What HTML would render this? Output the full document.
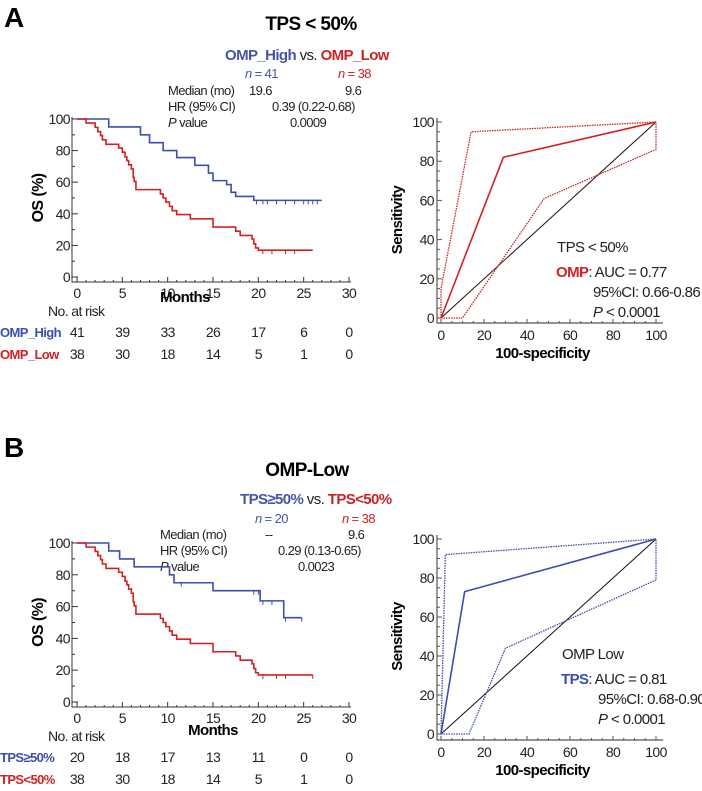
<!DOCTYPE html>
<html><head><meta charset="utf-8"><style>
html,body{margin:0;padding:0;background:#fff;}
svg{display:block;font-family:"Liberation Sans",Arial,sans-serif;}
svg text{letter-spacing:-0.6px;}
</style></head><body>
<svg id="fig" width="702" height="791" viewBox="0 0 702 791">
<g id="static" font-size="13" fill="#222">
  <text x="4" y="27" font-size="28" font-weight="bold" fill="#000">A</text>
  <text x="311" y="30" font-size="19" font-weight="bold" fill="#000" text-anchor="middle">TPS &lt; 50%</text>
  <text x="225" y="60" font-size="15"><tspan font-weight="bold" fill="#4455aa">OMP_High</tspan><tspan fill="#222"> vs. </tspan><tspan font-weight="bold" fill="#cc2222">OMP_Low</tspan></text>
  <text x="245" y="78" fill="#4455aa"><tspan font-style="italic">n</tspan> = 41</text>
  <text x="338" y="78" fill="#cc2222"><tspan font-style="italic">n</tspan> = 38</text>
  <text x="168" y="95">Median (mo)</text>
  <text x="249" y="95">19.6</text>
  <text x="345" y="95">9.6</text>
  <text x="168" y="111">HR (95% CI)</text>
  <text x="272" y="111">0.39 (0.22-0.68)</text>
  <text x="168" y="127"><tspan font-style="italic">P</tspan> value</text>
  <text x="290" y="127">0.0009</text>

  <text x="4" y="457" font-size="28" font-weight="bold" fill="#000">B</text>
  <text x="307" y="476" font-size="19" font-weight="bold" fill="#000" text-anchor="middle">OMP-Low</text>
  <text x="240" y="504" font-size="15"><tspan font-weight="bold" fill="#4455aa">TPS≥50%</tspan><tspan fill="#222"> vs. </tspan><tspan font-weight="bold" fill="#cc2222">TPS&lt;50%</tspan></text>
  <text x="255" y="523" fill="#4455aa"><tspan font-style="italic">n</tspan> = 20</text>
  <text x="342" y="523" fill="#cc2222"><tspan font-style="italic">n</tspan> = 38</text>
  <text x="160" y="539">Median (mo)</text>
  <text x="265" y="539">--</text>
  <text x="348" y="539">9.6</text>
  <text x="160" y="555">HR (95% CI)</text>
  <text x="278" y="555">0.29 (0.13-0.65)</text>
  <text x="160" y="571"><tspan font-style="italic">P</tspan> value</text>
  <text x="298" y="571">0.0023</text>
</g>
</svg>
<script>
// ---- KM data ----
const kmA_highT=[0,3.5,7,8,9.5,11,13,14.5,15,16.5,17,17.5,19.5,27];
const kmA_highS=[100,95,90,85,80,75.6,70.7,65.8,61,58.5,53.6,51,48.5,48.5];
const kmA_highCens=[19.8,20.5,21,22,23,24,25,25.5,26,26.5];
const kmA_lowT=[0,1,2,2.3,2.6,2.8,3.2,4.6,5,5.3,5.5,5.7,6,6.2,6.3,6.5,9.2,9.5,9.8,10.2,10.5,11,12.5,15,17.5,18,19.3,19.5,19.7,20,26];
const kmA_lowS=[100,97.4,94.7,92,89.5,86.8,84,81.6,79,76,73.7,71,68.4,63,60.5,55.3,52.6,50,47.4,44.7,42,39.5,36.8,31.6,29,26.3,24,21,18.4,17,17];
const kmA_lowCens=[20.5,21.5,23,24];
const kmB_highT=[0,3.5,4.7,6.3,10.2,10.7,15,20.2,22.8,24.8];
const kmB_highS=[100,95,90,85,80,75,70,63.6,53,53];
const kmB_highCens=[11.5,19.5,20,20.5,21.5,23,24.8];
const kmB_lowT=[0,1,2,2.3,2.6,2.8,3.2,4.6,5,5.3,5.5,5.7,6,6.2,6.3,6.5,9.2,9.5,9.8,10.2,10.5,11,12.5,15,17.5,18,19.3,19.5,19.7,20,26];
const kmB_lowS=[100,97.4,94.7,92,89.5,86.8,84,81.6,79,76,73.7,71,68.4,63,60.5,55.3,52.6,50,47.4,44.7,42,39.5,36.8,31.6,29,26.3,24,21,18.4,17,17];
const kmB_lowCens=[20.5,22,23,26];
const riskCols=[0,5,10,15,20,25,30];
const riskA_high=[41,39,33,26,17,6,0];
const riskA_low=[38,30,18,14,5,1,0];
const riskB_high=[20,18,17,13,11,0,0];
const riskB_low=[38,30,18,14,5,1,0];
const kmTicksX=[0,5,10,15,20,25,30];
const kmTicksY=[0,20,40,60,80,100];
// ---- ROC data ----
const rocA_mainX=[0,29,100], rocA_mainY=[0,82,100];
const rocA_upX=[0,0,14,100], rocA_upY=[0,15,95,100];
const rocA_loX=[0,10,48,100,100], rocA_loY=[0,0,61,86,100];
const rocB_mainX=[0,11,100], rocB_mainY=[0,73,100];
const rocB_upX=[0,2,100], rocB_upY=[0,92,100];
const rocB_loX=[0,13,30,100,100], rocB_loY=[0,0,44,79,100];
const rocTicks=[0,20,40,60,80,100];

const NS='http://www.w3.org/2000/svg';
const svg=document.getElementById('fig');
function mk(tag,attrs,parent){const e=document.createElementNS(NS,tag);for(const k in attrs)e.setAttribute(k,attrs[k]);(parent||svg).appendChild(e);return e;}
function txt(x,y,s,attrs){const e=mk('text',Object.assign({x:x,y:y,'font-size':13,fill:'#222'},attrs||{}));e.textContent=s;return e;}

function drawKM(o){
  const sx=t=>o.x0+(o.x1-o.x0)*t/30, sy=s=>o.y0-(o.y0-o.y1)*s/100;
  const g=mk('g',{});
  
  
  const ya=mk('path',{d:`M${o.x0-5} ${sy(100)-2}V${o.axY}H${o.x1+2}`,stroke:'#333',fill:'none','stroke-width':1},g);
  
  
  for(let v=0;v<=100;v+=10){mk('line',{x1:o.x0-5,x2:o.x0-(v%20?2:-1),y1:sy(v),y2:sy(v),stroke:'#333'},g);}
  kmTicksY.forEach(v=>{const t=txt(o.x0-7,sy(v)+5,String(v),{'text-anchor':'end','font-size':14});});
  for(let v=0;v<=30;v+=1){mk('line',{x1:sx(v),x2:sx(v),y1:o.axY,y2:o.axY-(v%5?2:5),stroke:'#333'},g);}
  kmTicksX.forEach(v=>{const t=txt(sx(v),o.axY+16,String(v),{'text-anchor':'middle','font-size':14});});
  const xl=txt(o.monX,o.monY,'Months',{'text-anchor':'middle','font-size':15,'font-weight':'bold',fill:'#000'});
  
  const yl=txt(0,0,'OS (%)',{'text-anchor':'middle','font-size':16,'font-weight':'bold',fill:'#000',transform:`translate(${o.x0-34},${(sy(50))}) rotate(-90)`});
  
  function curve(T,S,C,col,nm){
    let d=`M${sx(T[0])} ${sy(S[0])}`;
    for(let i=1;i<T.length;i++){d+=`H${sx(T[i])}V${sy(S[i])}`;}
    const p=mk('path',{d:d,stroke:col,fill:'none','stroke-width':1.6},g);
    
    
    C.forEach(c=>{let s=S[0];for(let i=0;i<T.length;i++){if(T[i]<=c)s=S[i];}
      const l=mk('line',{x1:sx(c),x2:sx(c),y1:sy(s),y2:sy(s)+4,stroke:col,'stroke-width':1},g);
      
      });
  }
  curve(o.hT,o.hS,o.hC,'#3a4fb0',o.name+'-high');
  curve(o.lT,o.lS,o.lC,'#d42020',o.name+'-low');
  const nr=txt(48,o.riskY,'No. at risk',{'font-size':14});
  
  [[o.hLab,o.rH,'#3a4fb0'],[o.lLab,o.rL,'#d42020']].forEach((r,k)=>{
    const y=o.riskY+21+k*22;
    const lb=txt(0,y,r[0],{'font-size':13,'font-weight':'bold',fill:r[2],'letter-spacing':'-0.9px'});
    
    riskCols.forEach((c,i)=>{const t=txt(sx(c),y,String(r[1][i]),{'text-anchor':'middle','font-size':14});
      });
  });
}
drawKM({name:'a',x0:77,x1:349,y0:277,y1:119,axY:282,monX:185,monY:302,riskY:316,hLab:'OMP_High',lLab:'OMP_Low',
  hT:kmA_highT,hS:kmA_highS,hC:kmA_highCens,lT:kmA_lowT,lS:kmA_lowS,lC:kmA_lowCens,rH:riskA_high,rL:riskA_low});
drawKM({name:'b',x0:77,x1:349,y0:702,y1:543,axY:707,monX:213,monY:735,riskY:741,hLab:'TPS≥50%',lLab:'TPS<50%',
  hT:kmB_highT,hS:kmB_highS,hC:kmB_highCens,lT:kmB_lowT,lS:kmB_lowS,lC:kmB_lowCens,rH:riskB_high,rL:riskB_low});

function drawROC(o){
  const sx=v=>o.x0+(o.x1-o.x0)*v/100, sy=v=>o.y0-(o.y0-o.y1)*v/100;
  const g=mk('g',{});
  
  
  const ax=mk('path',{d:`M${o.x0-4} ${sy(100)-4}V${o.axY}H${sx(100)+7}`,stroke:'#555',fill:'none','stroke-width':1.2},g);
  
  for(let v=0;v<=100;v+=5){mk('line',{x1:o.x0-4,x2:o.x0-(v%20?1:-1),y1:sy(v),y2:sy(v),stroke:'#555'},g);
    mk('line',{x1:sx(v),x2:sx(v),y1:o.axY,y2:o.axY-(v%20?2:4),stroke:'#555'},g);}
  rocTicks.forEach(v=>{
    const a=txt(o.x0-7,sy(v)+5,String(v),{'text-anchor':'end','font-size':14});
    
    const b=txt(sx(v),o.axY+17,String(v),{'text-anchor':'middle','font-size':14});
    });
  const xl=txt(sx(50)-6,o.axY+35,'100-specificity',{'text-anchor':'middle','font-size':15,'font-weight':'bold',fill:'#000'});
  
  const yl=txt(0,0,'Sensitivity',{'text-anchor':'middle','font-size':15,'font-weight':'bold',fill:'#000',transform:`translate(${o.x0-39},${sy(50)}) rotate(-90)`});
  
  const diag=mk('line',{x1:sx(0),y1:sy(0),x2:sx(100),y2:sy(100),stroke:'#111','stroke-width':1},g);
  
  const pl=(X,Y)=>X.map((x,i)=>sx(x)+','+sy(Y[i])).join(' ');
  const m=mk('polyline',{points:pl(o.mX,o.mY),stroke:o.col,fill:'none','stroke-width':1.6},g);
  
  const u=mk('polyline',{points:pl(o.uX,o.uY),stroke:o.col,fill:'none','stroke-width':1.3,'stroke-dasharray':'1.5 1'},g);
  
  const l=mk('polyline',{points:pl(o.lX,o.lY),stroke:o.col,fill:'none','stroke-width':1.3,'stroke-dasharray':'1.5 1'},g);
  
  const t1=txt(o.tx,o.ty,o.sub,{'font-size':15});
  
  const t2=mk('text',{x:o.tx-1,y:o.ty+25,'font-size':15,fill:'#222'});
  
  t2.innerHTML=`<tspan font-weight="bold" fill="${o.col}">${o.mk}</tspan>: AUC = ${o.auc}`;
  const t3=txt(o.tx+36,o.ty+45,'95%CI: '+o.ci,{'font-size':15,'letter-spacing':'-0.9px'});
  
  const t4=mk('text',{x:o.tx+36,y:o.ty+65,'font-size':15,fill:'#222'});
  
  t4.innerHTML='<tspan font-style="italic">P</tspan> &lt; 0.0001';
}
drawROC({name:'a',x0:441,x1:656,y0:318,y1:122,axY:323,col:'#d42020',mX:rocA_mainX,mY:rocA_mainY,uX:rocA_upX,uY:rocA_upY,lX:rocA_loX,lY:rocA_loY,
  tx:557,ty:252,sub:'TPS < 50%',mk:'OMP',auc:'0.77',ci:'0.66-0.86'});
drawROC({name:'b',x0:441,x1:656,y0:734,y1:539,axY:740,col:'#3a4fb0',mX:rocB_mainX,mY:rocB_mainY,uX:rocB_upX,uY:rocB_upY,lX:rocB_loX,lY:rocB_loY,
  tx:562,ty:659,sub:'OMP Low',mk:'TPS',auc:'0.81',ci:'0.68-0.90'});
</script>
</body></html>
